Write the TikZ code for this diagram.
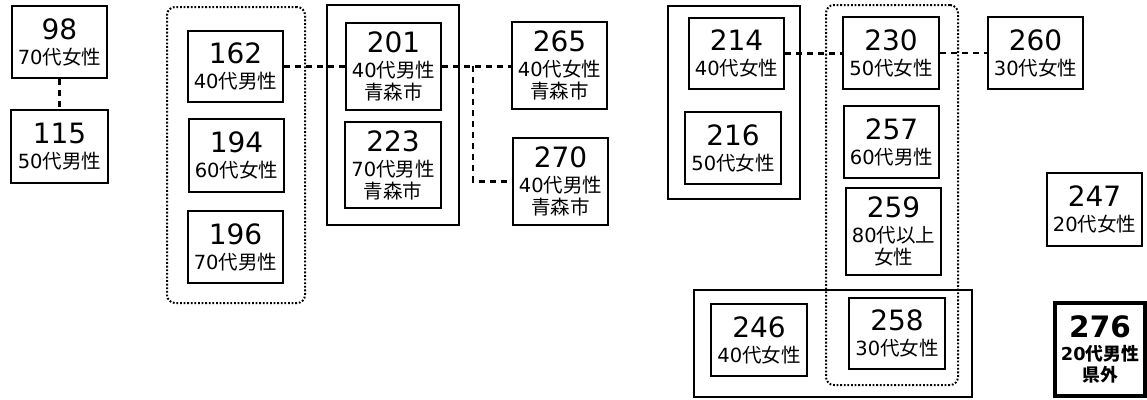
\documentclass[tikz,border=0pt]{standalone}
\usepackage{fontspec}
\setmainfont{DejaVu Sans}
\newfontfamily\jpf{Noto Sans CJK JP}
\newcommand\jp[1]{{\jpf #1}}
\newcommand\nm[1]{{\fontsize{28}{28}\selectfont #1}\\[3pt]}
\tikzset{
  box/.style={draw, line width=2pt, align=center, inner sep=0pt, font=\fontsize{19.5}{22}\selectfont},
  outer/.style={draw, line width=2pt, inner sep=0pt},
  group/.style={draw, line width=2pt, dash pattern=on 1.8pt off 1.8pt, rounded corners=8pt, inner sep=0pt},
  link/.style={line width=2.3pt, dash pattern=on 6pt off 5pt},
}
\newcommand\bx[7][]{\node[box,#1,minimum width={(#5-#3)*1pt},minimum height={(#6-#4)*1pt}] (#2) at ({(#3+#5)/2},{(#4+#6)/2}) {#7};}
\newcommand\rect[6][]{\node[#1,minimum width={(#5-#3)*1pt},minimum height={(#6-#4)*1pt}] (#2) at ({(#3+#5)/2},{(#4+#6)/2}) {};}
\begin{document}
\begin{tikzpicture}[x=1pt,y=-1pt]
\useasboundingbox (0,0) rectangle (1147,399);
% groups and outer frames
\rect[group]{g1}{167}{7}{305}{303}
\rect[outer]{o1}{327}{5}{459}{225}
\rect[outer]{o2}{668}{6}{800}{199}
\rect[group]{g2}{826}{5}{958}{385}
\rect[outer]{o3}{694}{290}{972}{397}
% boxes
\bx{n98}{12}{6}{107}{78}{\nm{98}70\jp{代女性}}
\bx{n115}{11}{110}{108}{183}{\nm{115}50\jp{代男性}}
\bx{n162}{188}{31}{283}{102}{\nm{162}40\jp{代男性}}
\bx{n194}{189}{119}{284}{192}{\nm{194}60\jp{代女性}}
\bx{n196}{188}{211}{283}{283}{\nm{196}70\jp{代男性}}
\bx{n201}{346}{23}{441}{110}{\nm{201}40\jp{代男性}\\\jp{青森市}}
\bx{n223}{345}{122}{441}{208}{\nm{223}70\jp{代男性}\\\jp{青森市}}
\bx{n265}{512}{22}{607}{109}{\nm{265}40\jp{代女性}\\\jp{青森市}}
\bx{n270}{513}{138}{608}{225}{\nm{270}40\jp{代男性}\\\jp{青森市}}
\bx{n214}{689}{18}{784}{89}{\nm{214}40\jp{代女性}}
\bx{n216}{685}{112}{781}{184}{\nm{216}50\jp{代女性}}
\bx{n230}{843}{17}{939}{89}{\nm{230}50\jp{代女性}}
\bx{n257}{844}{106}{939}{178}{\nm{257}60\jp{代男性}}
\bx{n259}{846}{188}{941}{275}{\nm{259}80\jp{代以上}\\\jp{女性}}
\bx{n246}{711}{304}{807}{376}{\nm{246}40\jp{代女性}}
\bx{n258}{849}{298}{945}{369}{\nm{258}30\jp{代女性}}
\bx{n260}{988}{17}{1083}{89}{\nm{260}30\jp{代女性}}
\bx{n247}{1047}{173}{1142}{246}{\nm{247}20\jp{代女性}}
\bx[line width=4.5pt,font=\fontsize{17.8}{21}\selectfont\bfseries]{n276}{1055}{303}{1145}{396}{{\fontsize{29.5}{29.5}\selectfont\bfseries 276}\\[2pt]20\jp{\bfseries 代男性}\\\jp{\bfseries 県外}}
% connectors
\draw[link] (n98) -- (n115);
\draw[link] (n162) -- (n201);
\draw[link] (n201.east) -- (n265.west |- n201.east);
\coordinate (j1) at (473,66);
\draw[link] (j1) |- (n270.west);
\draw[link] (n214.east) -- (n230.west |- n214.east);
\draw[link] (n230.east) -- (n260.west |- n230.east);
\end{tikzpicture}
\end{document}
